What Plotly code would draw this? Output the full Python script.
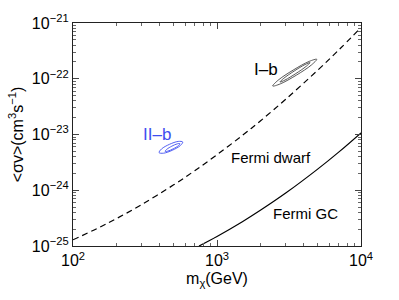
import plotly.graph_objects as go

# Fermi dwarf limit (dashed)
dwarf_mass = [100, 150, 200, 300, 500, 700, 1000, 1500, 2000, 3000, 5000, 7000, 10000]
dwarf_sv = [1.29e-25, 2.11e-25, 3.09e-25, 5.55e-25, 1.25e-24, 2.24e-24, 4.34e-24,
            9.62e-24, 1.75e-23, 4.28e-23, 1.42e-22, 3.27e-22, 8.28e-22]

# Fermi GC limit (solid)
gc_mass = [750, 1000, 1500, 2000, 3000, 5000, 7000, 10000]
gc_sv = [1.0e-25, 1.48e-25, 2.72e-25, 4.36e-25, 8.89e-25, 2.39e-24, 4.83e-24, 1.07e-23]

# I-b contours
ib_outer_mass = [4925, 4522, 3552, 2749, 2437, 2654, 3380, 4365, 4925]
ib_outer_sv = [2.233e-22, 1.763e-22, 1.157e-22, 8.08e-23, 7.41e-23, 9.39e-23, 1.430e-22, 2.048e-22, 2.233e-22]
ib_inner_mass = [4424, 4163, 3527, 2966, 2738, 2911, 3436, 4087, 4424]
ib_inner_sv = [1.949e-22, 1.670e-22, 1.239e-22, 9.48e-23, 8.74e-23, 1.020e-22, 1.375e-22, 1.798e-22, 1.949e-22]

# II-b contours
iib_outer_mass = [578, 555, 489, 425, 396, 412, 468, 538, 578]
iib_outer_sv = [7.34e-24, 6.30e-24, 5.21e-24, 4.62e-24, 4.73e-24, 5.51e-24, 6.67e-24, 7.51e-24, 7.34e-24]
iib_inner_mass = [553, 539, 496, 455, 436, 448, 486, 530, 553]
iib_inner_sv = [6.85e-24, 6.29e-24, 5.53e-24, 5.03e-24, 4.99e-24, 5.43e-24, 6.18e-24, 6.80e-24, 6.85e-24]

x_tickvals = [1e2, 1e3, 1e4]
x_ticktext = ["10<sup>2</sup>", "10<sup>3</sup>", "10<sup>4</sup>"]
y_tickvals = [1e-25, 1e-24, 1e-23, 1e-22, 1e-21]
y_ticktext = ["10<sup>\u221225</sup>", "10<sup>\u221224</sup>", "10<sup>\u221223</sup>",
              "10<sup>\u221222</sup>", "10<sup>\u221221</sup>"]

FONT = "Liberation Sans, Arial, Helvetica, sans-serif"
BLUE = "#3f4ff0"

fig = go.Figure()
fig.add_trace(go.Scatter(x=dwarf_mass, y=dwarf_sv, mode="lines", line_shape="spline",
                         line=dict(color="black", width=1.2, dash="6px,4px"), showlegend=False))
fig.add_trace(go.Scatter(x=gc_mass, y=gc_sv, mode="lines", line_shape="spline",
                         line=dict(color="black", width=1.2), showlegend=False))
for mx, sv, col in [(ib_outer_mass, ib_outer_sv, "#444444"), (ib_inner_mass, ib_inner_sv, "#444444"),
                    (iib_outer_mass, iib_outer_sv, BLUE), (iib_inner_mass, iib_inner_sv, BLUE)]:
    fig.add_trace(go.Scatter(x=mx, y=sv, mode="lines", line_shape="spline",
                             line=dict(color=col, width=0.9), showlegend=False))

annots = [
    dict(x=3.34, y=-21.83, text="I\u2013b", font=dict(size=17, color="black")),
    dict(x=2.583, y=-22.996, text="II\u2013b", font=dict(size=17, color=BLUE)),
    dict(x=3.378, y=-23.414, text="Fermi dwarf", font=dict(size=15, color="black")),
    dict(x=3.618, y=-24.414, text="Fermi GC", font=dict(size=15, color="black")),
]
for a in annots:
    fig.add_annotation(x=a["x"], y=a["y"], text=a["text"], showarrow=False,
                       xref="x", yref="y", font=dict(family=FONT, **a["font"]))

axis_common = dict(showgrid=False, zeroline=False, showline=True, linecolor="#222222",
                   linewidth=1.3, ticks="inside", ticklen=6, tickcolor="#444444",
                   mirror="ticks", tickfont=dict(family=FONT, size=16, color="black"),
                   minor=dict(ticks="inside", ticklen=3, tickcolor="#666666", dtick="D1", showgrid=False))

fig.update_xaxes(type="log", range=[2, 4], tickvals=x_tickvals, ticktext=x_ticktext,
                 title=dict(text="m<sub>\u03c7</sub>(GeV)", font=dict(family=FONT, size=16, color="black"),
                            standoff=4),
                 **axis_common)
fig.update_yaxes(type="log", range=[-25, -21], tickvals=y_tickvals, ticktext=y_ticktext,
                 title=dict(text="<\u03c3v>(cm<sup>3</sup>s<sup>\u22121</sup>)",
                            font=dict(family=FONT, size=16, color="black"), standoff=4),
                 **axis_common)

fig.update_layout(width=399, height=300, margin=dict(l=73, r=38, t=23, b=54),
                  plot_bgcolor="white", paper_bgcolor="white", showlegend=False,
                  font=dict(family=FONT, color="black"))

fig.write_html("out.html", config={"displayModeBar": False},
               post_script="document.body.style.margin='0px';")
